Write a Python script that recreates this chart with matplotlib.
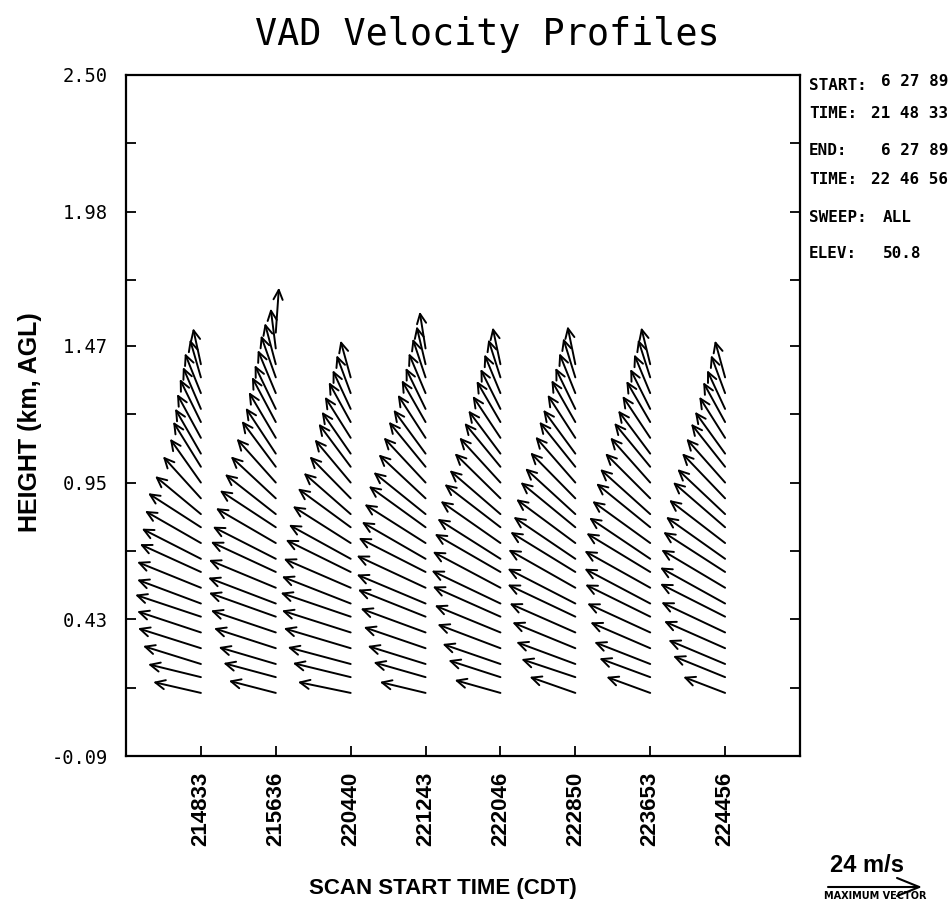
import matplotlib.pyplot as plt
from matplotlib.transforms import offset_copy, ScaledTranslation

# scan start times (CDT) and VAD wind vectors (m/s) at each height (km AGL)
scan_times = ["214833", "215636", "220440", "221243", "222046", "222850", "223653", "224456"]
heights = [0.15, 0.21, 0.26, 0.32, 0.38, 0.44, 0.49, 0.55, 0.61, 0.66, 0.72, 0.78, 0.83,
           0.89, 0.95, 1.01, 1.06, 1.12, 1.18, 1.23, 1.29, 1.35, 1.40, 1.46, 1.52]

u1 = [-12.2, -13.5, -14.8, -16.1, -16.3, -16.8, -16.3, -16.3, -15.6, -15.1, -14.3, -13.5, -11.7,
      -9.7, -7.9, -7.1, -6.6, -6.1, -5.4, -4.6, -4.1, -2.8, -2.0]
v1 = [2.8, 3.3, 4.6, 5.1, 5.4, 5.6, 6.1, 6.6, 7.1, 7.7, 8.2, 8.7, 9.7,
      10.7, 11.2, 11.5, 11.5, 11.2, 11.0, 10.7, 10.2, 9.7, 9.2]
u2 = [-12.0, -13.4, -14.6, -15.8, -16.6, -17.1, -17.3, -17.1, -16.6, -16.1, -15.3, -14.3, -13.0,
      -11.5, -10.0, -8.7, -7.7, -6.9, -6.1, -5.4, -4.6, -3.8, -2.8, -1.3, 0.8]
v2 = [3.1, 3.6, 4.3, 5.1, 5.6, 6.1, 6.6, 7.1, 7.7, 8.2, 8.9, 9.4, 10.2,
      10.7, 11.2, 11.7, 11.7, 11.7, 11.5, 11.2, 11.0, 10.7, 10.5, 10.2, 11.5]
u3 = [-13.5, -14.8, -16.1, -17.1, -17.6, -17.9, -17.6, -17.1, -16.6, -15.8, -14.8, -13.5, -12.0,
      -10.5, -9.2, -8.2, -7.4, -6.6, -5.6, -4.6, -3.6, -2.6]
v3 = [2.8, 3.6, 4.3, 5.1, 5.6, 6.1, 6.9, 7.4, 8.2, 8.7, 9.4, 9.9, 10.5,
      10.7, 11.0, 11.0, 10.7, 10.5, 10.2, 9.9, 9.7, 9.4]
u4 = [-11.7, -13.3, -14.8, -15.8, -16.6, -17.3, -17.6, -17.6, -17.1, -16.3, -15.6, -14.5, -13.3,
      -12.0, -10.7, -9.4, -8.2, -7.1, -6.1, -5.1, -4.3, -3.3, -2.3, -1.5]
v4 = [2.8, 3.8, 4.6, 5.4, 6.1, 6.9, 7.4, 8.2, 8.7, 9.4, 9.9, 10.5, 10.7,
      11.2, 11.5, 11.5, 11.2, 11.0, 10.7, 10.5, 10.2, 9.9, 9.7, 9.4]
u5 = [-11.7, -13.3, -14.8, -16.1, -16.8, -17.3, -17.6, -17.3, -16.8, -16.1, -15.3, -14.3, -13.0,
      -11.7, -10.5, -9.2, -8.2, -7.1, -6.1, -5.1, -4.1, -3.1, -2.0]
v5 = [3.3, 4.3, 5.1, 6.1, 6.9, 7.7, 8.4, 9.2, 9.7, 10.2, 10.7, 11.0, 11.2,
      11.5, 11.5, 11.2, 11.0, 10.7, 10.5, 10.2, 9.9, 9.7, 9.4]
u6 = [-11.7, -13.8, -15.1, -16.1, -16.8, -17.3, -17.3, -17.1, -16.6, -15.8, -15.1, -14.0, -12.8,
      -11.5, -10.2, -9.2, -8.2, -7.1, -6.1, -5.1, -4.1, -3.1, -2.0]
v6 = [4.1, 4.6, 5.6, 6.6, 7.4, 8.2, 8.9, 9.7, 10.2, 10.7, 11.2, 11.5, 11.7,
      11.7, 11.7, 11.5, 11.2, 11.0, 10.7, 10.5, 10.2, 10.0, 9.7]
u7 = [-11.2, -13.0, -14.3, -15.3, -16.1, -16.6, -16.8, -16.8, -16.3, -15.6, -14.8, -13.8, -12.8,
      -11.5, -10.2, -9.2, -8.2, -7.1, -6.1, -5.1, -4.1, -3.1, -2.3]
v7 = [4.1, 4.8, 5.6, 6.6, 7.4, 8.2, 8.9, 9.4, 9.9, 10.5, 10.7, 11.2, 11.5,
      11.5, 11.5, 11.2, 11.0, 10.7, 10.5, 10.2, 9.9, 9.7, 9.4]
u8 = [-10.7, -13.3, -14.5, -15.6, -16.3, -16.6, -16.6, -16.3, -15.8, -15.1, -14.3, -13.3, -12.2,
      -11.0, -9.9, -8.7, -7.7, -6.6, -5.6, -4.6, -3.6, -2.6]
v8 = [4.1, 5.4, 6.1, 6.9, 7.7, 8.4, 9.2, 9.7, 10.2, 10.7, 11.0, 11.5, 11.5,
      11.5, 11.2, 11.0, 10.7, 10.5, 10.2, 9.9, 9.7, 9.4]
u_profiles = [u1, u2, u3, u4, u5, u6, u7, u8]
v_profiles = [v1, v2, v3, v4, v5, v6, v7, v8]

yticks = [-0.09, 0.43, 0.95, 1.47, 1.98, 2.50]
yminor = [0.17, 0.69, 1.21, 1.72, 2.24]
max_vector = 24

info_keys = ["START:", "TIME:", "END:", "TIME:", "SWEEP:", "ELEV:"]
info_vals = ["6 27 89", "21 48 33", "6 27 89", "22 46 56", "ALL", "50.8"]

PT_PER_MS = 94 * 0.72 / max_vector   # 24 m/s arrow is ~94 px long

fig = plt.figure(figsize=(9.51, 9.01), dpi=100)
ax = fig.add_axes([0.1325, 0.1609, 0.7087, 0.7559])
ax.set_xlim(-1, 8)
ax.set_ylim(-0.09, 2.50)

arrow_style = dict(arrowstyle='->,head_length=0.7,head_width=0.33', lw=1.4,
                   color='black', shrinkA=0, shrinkB=0)
for i, (us, vs) in enumerate(zip(u_profiles, v_profiles)):
    for h, u, v in zip(heights, us, vs):
        head = offset_copy(ax.transData, fig=fig, x=u * PT_PER_MS, y=v * PT_PER_MS, units='points')
        ax.annotate('', xy=(i, h), xycoords=head, xytext=(i, h), textcoords='data',
                    arrowprops=arrow_style)

mono = 'DejaVu Sans Mono'
bold = 'Liberation Sans'

ax.set_xticks(range(len(scan_times)))
ax.set_xticklabels(scan_times, rotation=90, fontfamily=bold, fontweight='bold', fontsize=16)
for lab in ax.get_xticklabels():
    lab.set_transform(lab.get_transform() + ScaledTranslation(-5 / 72, 0, fig.dpi_scale_trans))
ax.set_yticks(yticks)
ax.set_yticklabels(['%.2f' % t for t in yticks], fontfamily=mono, fontsize=13.5)
ax.set_yticks(yminor, minor=True)
ax.tick_params(axis='x', direction='in', length=7, width=1.3, pad=11.5, top=False)
ax.tick_params(axis='y', which='both', direction='in', length=7, width=1.3, pad=13, right=True)
for s in ax.spines.values():
    s.set_linewidth(1.6)

ax.set_xlabel('SCAN START TIME (CDT)', fontfamily=bold, fontweight='bold', fontsize=16, va='center')
ax.xaxis.set_label_coords(0.47, -0.195)
ax.set_ylabel('HEIGHT (km, AGL)', fontfamily=bold, fontweight='bold', fontsize=18, va='center')
ax.yaxis.set_label_coords(-0.142, 0.49)
fig.text(0.512, 0.962, 'VAD Velocity Profiles', fontfamily=mono, fontsize=26.5,
         ha='center', va='center')

# run info on the right
key_y = [86, 113, 151, 180, 218, 254]
val_y = [81, 113, 151, 180, 218, 254]
for i, (key, val) in enumerate(zip(info_keys, info_vals)):
    fig.text(809 / 951, 1 - key_y[i] / 901, key, fontfamily=mono, fontweight='bold',
             fontsize=11.5, va='center')
    if i >= 4:
        fig.text(883 / 951, 1 - val_y[i] / 901, val, fontfamily=mono, fontweight='bold',
                 fontsize=11.5, va='center')
    else:
        fig.text(948 / 951, 1 - val_y[i] / 901, val, fontfamily=mono, fontweight='bold',
                 fontsize=11.5, va='center', ha='right')

# maximum vector key
key_tail = (828 / 951, 1 - 887 / 901)
key_head = offset_copy(fig.transFigure, fig=fig, x=max_vector * PT_PER_MS, y=0, units='points')
ax.annotate('', xy=key_tail, xycoords=key_head, xytext=key_tail, textcoords='figure fraction',
            arrowprops=dict(arrowstyle='->,head_length=1.6,head_width=0.65', lw=1.5,
                            color='black', shrinkA=0, shrinkB=0), annotation_clip=False)
fig.text(867 / 951, 1 - 866 / 901, '%d m/s' % max_vector, fontfamily=bold, fontweight='bold',
         fontsize=17, ha='center', va='center')
fig.text(875 / 951, 1 - 896 / 901, 'MAXIMUM VECTOR', fontfamily='DejaVu Sans', fontweight='bold',
         fontsize=7, ha='center', va='center')

fig.savefig('out.png', dpi=100)
